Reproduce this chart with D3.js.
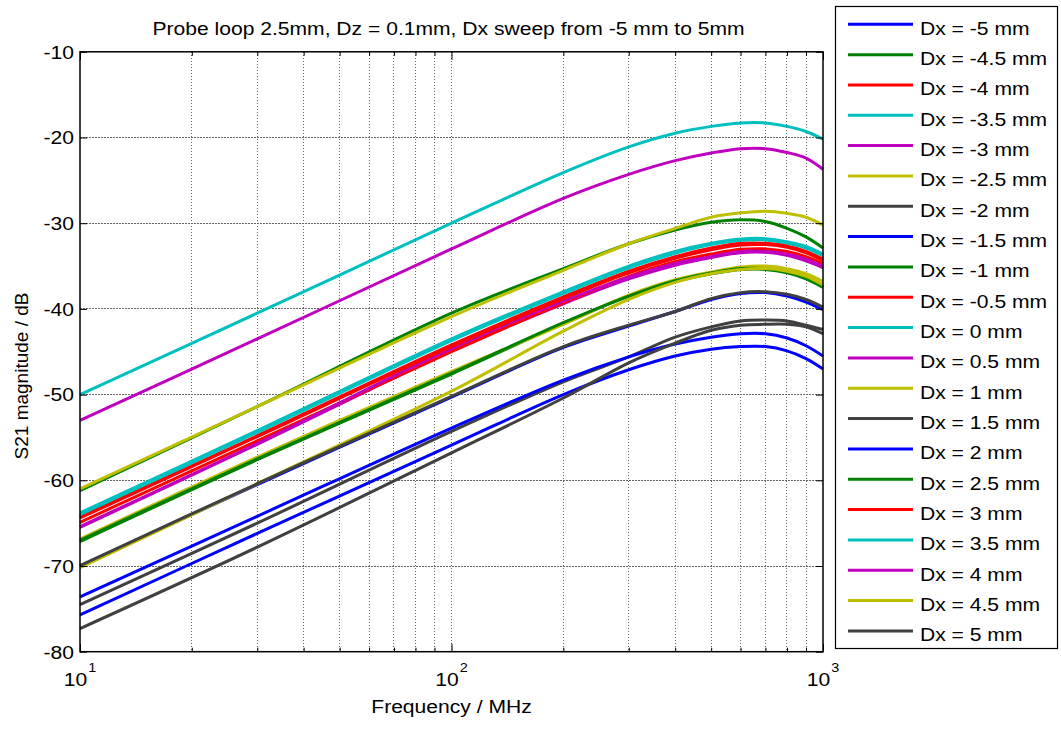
<!DOCTYPE html>
<html>
<head>
<meta charset="utf-8">
<script src="https://cdn.jsdelivr.net/npm/d3@7"></script>
<style>
  body { margin: 0; background: #fff; }
  svg { display: block; font-family: "Liberation Sans", Arial, sans-serif; }
</style>
</head>
<body>
<svg id="chart" width="1061" height="729"></svg>
<script>
// Measurement frequencies (MHz)
const freqs = [10, 30, 100, 200, 300, 400, 500, 600, 700, 800, 900, 1000];

// S21 magnitude (dB) for each probe offset Dx
const dxM50 = [-75.7, -66.2, -55.9, -50.0, -47.1, -45.5, -44.7, -44.4, -44.4, -44.9, -45.8, -47.0];
const dxM45 = [-67.15, -57.6, -47.6, -41.7, -38.5, -36.8, -35.9, -35.4, -35.4, -35.8, -36.5, -37.5];
const dxM40 = [-64.25, -54.8, -44.2, -38.6, -35.6, -33.9, -32.9, -32.35, -32.35, -32.65, -33.3, -34.2];
const dxM35 = [-64.0, -54.4, -43.7, -38.2, -35.2, -33.5, -32.5, -32.0, -31.95, -32.3, -32.9, -33.8];
const dxM30 = [-65.5, -55.8, -44.9, -39.4, -36.5, -34.9, -34.0, -33.45, -33.4, -33.75, -34.4, -35.2];
const dxM25 = [-66.85, -57.3, -47.3, -41.8, -38.4, -36.6, -35.7, -35.1, -35.0, -35.3, -35.9, -36.8];
const dxM20 = [-74.5, -65.0, -54.3, -48.5, -45.6, -43.3, -42.1, -41.4, -41.3, -41.4, -41.9, -42.4];
const dxM15 = [-70.0, -60.5, -50.3, -44.5, -42.0, -40.3, -38.9, -38.2, -38.1, -38.5, -39.2, -40.1];
const dxM10 = [-67.0, -57.5, -47.5, -41.6, -38.5, -36.7, -35.8, -35.3, -35.3, -35.7, -36.4, -37.4];
const dxM05 = [-64.9, -55.4, -45.0, -39.3, -36.2, -34.5, -33.6, -33.05, -33.0, -33.3, -33.9, -34.7];
const dx00  = [-63.8, -54.2, -43.5, -38.0, -35.0, -33.3, -32.35, -31.85, -31.8, -32.15, -32.7, -33.6];
const dxP05 = [-65.4, -55.7, -44.6, -39.1, -36.3, -34.7, -33.9, -33.3, -33.3, -33.6, -34.2, -35.0];
const dxP10 = [-70.2, -60.4, -49.6, -42.6, -38.9, -36.9, -35.9, -35.4, -35.3, -35.6, -36.2, -37.2];
const dxP15 = [-69.95, -60.4, -50.2, -44.4, -41.9, -40.3, -38.8, -38.1, -38.0, -38.3, -38.9, -39.8];
const dxP20 = [-73.6, -64.2, -53.9, -48.3, -45.6, -44.1, -43.3, -42.9, -42.9, -43.4, -44.3, -45.5];
const dxP25 = [-61.2, -51.4, -40.5, -35.3, -32.4, -30.8, -29.9, -29.6, -29.8, -30.6, -31.6, -32.9];
const dxP30 = [-64.4, -54.9, -44.4, -38.8, -35.8, -34.1, -33.1, -32.55, -32.5, -32.8, -33.45, -34.35];
const dxP35 = [-50.0, -40.5, -30.0, -24.1, -21.1, -19.5, -18.7, -18.3, -18.3, -18.7, -19.3, -20.2];
const dxP40 = [-53.0, -43.5, -33.0, -27.1, -24.3, -22.7, -21.8, -21.3, -21.3, -21.75, -22.4, -23.7];
const dxP45 = [-61.0, -51.4, -40.9, -35.5, -32.4, -30.6, -29.3, -28.8, -28.6, -28.85, -29.3, -30.2];
const dxP50 = [-77.3, -67.8, -56.8, -50.4, -46.3, -44.0, -42.5, -41.9, -41.8, -41.8, -42.1, -42.9];

const seriesNames = [
  "Dx = -5 mm", "Dx = -4.5 mm", "Dx = -4 mm", "Dx = -3.5 mm", "Dx = -3 mm",
  "Dx = -2.5 mm", "Dx = -2 mm", "Dx = -1.5 mm", "Dx = -1 mm", "Dx = -0.5 mm",
  "Dx = 0 mm", "Dx = 0.5 mm", "Dx = 1 mm", "Dx = 1.5 mm", "Dx = 2 mm",
  "Dx = 2.5 mm", "Dx = 3 mm", "Dx = 3.5 mm", "Dx = 4 mm", "Dx = 4.5 mm", "Dx = 5 mm"
];
const seriesValues = [dxM50, dxM45, dxM40, dxM35, dxM30, dxM25, dxM20, dxM15, dxM10, dxM05,
  dx00, dxP05, dxP10, dxP15, dxP20, dxP25, dxP30, dxP35, dxP40, dxP45, dxP50];

// Colour order cycles through 7 line colours
const lineColors = ["#0000ff", "#008000", "#ff0000", "#00bfbf", "#bf00bf", "#bfbf00", "#404040"];

const yTicks = [-80, -70, -60, -50, -40, -30, -20, -10];
const xMajor = [10, 100, 1000];
const xMinor = [20, 30, 40, 50, 60, 70, 80, 90, 200, 300, 400, 500, 600, 700, 800, 900];

const titleText = "Probe loop 2.5mm, Dz = 0.1mm, Dx sweep from -5 mm to 5mm";
const xLabel = "Frequency / MHz";
const yLabel = "S21 magnitude / dB";

// ---------------------------------------------------------------
const svg = d3.select("#chart");
const plot = { left: 80, right: 823, top: 51.8, bottom: 651.7 };
const fs = 19;      // base font size
const sx = 1.11;    // horizontal text scale

const x = d3.scaleLog().domain([10, 1000]).range([plot.left, plot.right]);
const y = d3.scaleLinear().domain([-80, -10]).range([plot.bottom, plot.top]);

// grid
const grid = svg.append("g").attr("stroke", "#666").attr("stroke-width", 1)
  .attr("stroke-dasharray", "1.5,1.5").attr("shape-rendering", "crispEdges");
xMinor.concat([100]).forEach(f => {
  grid.append("line").attr("x1", x(f)).attr("x2", x(f))
    .attr("y1", plot.top).attr("y2", plot.bottom);
});
yTicks.filter(v => v > -80 && v < -10).forEach(v => {
  grid.append("line").attr("x1", plot.left).attr("x2", plot.right)
    .attr("y1", y(v)).attr("y2", y(v));
});

// series
const line = d3.line().x((d, i) => x(freqs[i])).y(d => y(d))
  .curve(d3.curveCatmullRom.alpha(0.5));
svg.append("g").selectAll("path").data(seriesValues).join("path")
  .attr("d", d => line(d))
  .attr("fill", "none")
  .attr("stroke", (d, i) => lineColors[i % 7])
  .attr("stroke-width", 3)
  .attr("stroke-linejoin", "round");

// axes (inward ticks, box)
const allX = xMajor.concat(xMinor).sort((a, b) => a - b);
function tickLen(f) { return xMajor.includes(f) ? 8 : 4; }

const axB = svg.append("g").attr("transform", `translate(0,${plot.bottom})`)
  .call(d3.axisBottom(x).tickValues(allX).tickSize(0).tickFormat(""));
const axT = svg.append("g").attr("transform", `translate(0,${plot.top})`)
  .call(d3.axisTop(x).tickValues(allX).tickSize(0).tickFormat(""));
const axL = svg.append("g").attr("transform", `translate(${plot.left},0)`)
  .call(d3.axisLeft(y).tickValues(yTicks).tickSize(-7).tickFormat(""));
const axR = svg.append("g").attr("transform", `translate(${plot.right},0)`)
  .call(d3.axisRight(y).tickValues(yTicks).tickSize(-7).tickFormat(""));
axB.selectAll(".tick line").attr("y2", f => -tickLen(f));
axT.selectAll(".tick line").attr("y2", f => tickLen(f));
[axB, axT, axL, axR].forEach(a => {
  a.select(".domain").remove();
  a.selectAll(".tick line").attr("stroke", "#000").attr("stroke-width", 1);
});

svg.append("rect").attr("x", plot.left).attr("y", plot.top)
  .attr("width", plot.right - plot.left).attr("height", plot.bottom - plot.top)
  .attr("fill", "none").attr("stroke", "#000").attr("stroke-width", 1.5);

// text helper with horizontal scale
function label(g, tx, ty, str, anchor, size) {
  return g.append("text")
    .attr("transform", `translate(${tx},${ty}) scale(${sx},1)`)
    .attr("text-anchor", anchor)
    .attr("font-size", size || fs)
    .attr("fill", "#000")
    .text(str);
}

// y tick labels
yTicks.forEach(v => label(svg, plot.left - 6, y(v) + 6.8, String(v), "end"));

// x tick labels: 10^n
xMajor.forEach(f => {
  const t = svg.append("text")
    .attr("transform", `translate(${x(f)},686) scale(${sx},1)`)
    .attr("text-anchor", "middle").attr("font-size", fs).attr("fill", "#000");
  t.append("tspan").text("10");
  t.append("tspan").attr("font-size", 13).attr("dy", -14).attr("dx", 1)
    .text(String(Math.round(Math.log10(f))));
});

// title and axis labels
label(svg, (plot.left + plot.right) / 2 - 3, 35, titleText, "middle");
label(svg, (plot.left + plot.right) / 2, 713, xLabel, "middle");
svg.append("text")
  .attr("transform", `translate(28,376) rotate(-90)`)
  .attr("text-anchor", "middle").attr("font-size", fs).attr("fill", "#000")
  .text(yLabel);

// legend
const leg = svg.append("g");
leg.append("rect").attr("x", 835.5).attr("y", 6.5).attr("width", 222).attr("height", 642)
  .attr("fill", "#fff").attr("stroke", "#000").attr("stroke-width", 1.2);
const rowY = i => 24.3 + i * 30.33;
seriesNames.forEach((name, i) => {
  leg.append("line").attr("x1", 848).attr("x2", 913)
    .attr("y1", rowY(i)).attr("y2", rowY(i))
    .attr("stroke", lineColors[i % 7]).attr("stroke-width", 3);
  label(leg, 920, rowY(i) + 10.5, name, "start");
});
</script>
</body>
</html>
